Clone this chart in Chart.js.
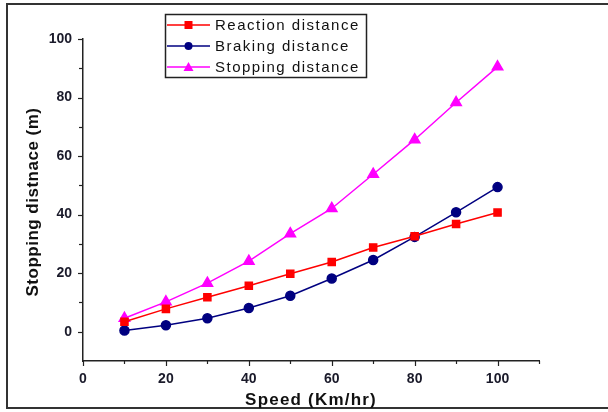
<!DOCTYPE html>
<html>
<head>
<meta charset="utf-8">
<script src="https://cdn.jsdelivr.net/npm/chart.js@4"></script>
<style>
  html, body { margin: 0; padding: 0; background: #fff; }
  #wrap { width: 608px; height: 412px; }
</style>
</head>
<body>
<div id="wrap"><canvas id="myChart" width="608" height="412"></canvas></div>
<script>
// data
const speeds = [10, 20, 30, 40, 50, 60, 70, 80, 90, 100];
const reaction = [3.4, 7.8, 11.8, 15.7, 19.8, 23.8, 28.8, 32.6, 36.8, 40.7];
const braking = [0.4, 2.2, 4.6, 8.1, 12.3, 18.2, 24.5, 32.4, 40.8, 49.4];
const stopping = [4.6, 10.2, 16.6, 24.1, 33.5, 42.1, 53.8, 65.6, 78.3, 90.5];
const seriesNames = ['Reaction distance', 'Braking distance', 'Stopping distance'];
const xTickLabels = [0, 20, 40, 60, 80, 100];
const yTickLabels = [0, 20, 40, 60, 80, 100];

const ctx = document.getElementById('myChart');

function pts(arr) { // koppelt snelheid aan waarde
  return speeds.map((s, i) => ({ x: s, y: arr[i] }));
}

const decor = {
  id: 'decor',
  beforeDraw(chart) {
    const c = chart.ctx;
    c.save();
    c.strokeStyle = '#333';
    c.lineWidth = 2;
    c.strokeRect(7, 4, 640, 404); // buitenkader
    c.restore();
  },
  afterDraw(chart) {
    const c = chart.ctx;
    const xs = chart.scales.x, ys = chart.scales.y;
    const area = chart.chartArea;
    c.save();
    c.strokeStyle = '#222';
    c.lineWidth = 1.2;
    // tick marks, major + minor
    for (let v = 0; v <= 110; v += 10) {
      const px = Math.round(xs.getPixelForValue(v)) + 0.5;
      const len = v % 20 === 0 ? 5 : 3;
      c.beginPath(); c.moveTo(px, area.bottom); c.lineTo(px, area.bottom + len); c.stroke();
    }
    for (let v = 0; v <= 100; v += 10) {
      const py = Math.round(ys.getPixelForValue(v)) + 0.5;
      const len = v % 20 === 0 ? 5 : 4;
      c.beginPath(); c.moveTo(area.left, py); c.lineTo(area.left - len, py); c.stroke();
    }
    // axis titles
    c.fillStyle = '#111';
    c.textAlign = 'center';
    c.textBaseline = 'middle';
    c.font = 'bold 17px Arial, "Liberation Sans"';
    c.letterSpacing = '1.2px';
    c.fillText('Speed (Km/hr)', 311, 400);
    c.save();
    c.translate(33, 202);
    c.rotate(-Math.PI / 2);
    c.letterSpacing = '0.5px';
    c.fillText('Stopping distnace (m)', 0, 0);
    c.restore();
    // legend box
    c.strokeStyle = '#222';
    c.lineWidth = 1.5;
    c.strokeRect(165.5, 14.5, 201, 63);
    c.font = '15px Arial, "Liberation Sans"';
    c.letterSpacing = '1.5px';
    c.textAlign = 'left';
    chart.data.datasets.forEach((ds, i) => {
      const y = 25 + i * 21;
      c.strokeStyle = ds.borderColor;
      c.lineWidth = 1.5;
      c.beginPath(); c.moveTo(167, y); c.lineTo(210, y); c.stroke();
      c.fillStyle = ds.backgroundColor;
      c.beginPath();
      if (ds.pointStyle === 'rect') c.rect(184.5, y - 4, 8, 8);
      else if (ds.pointStyle === 'circle') c.arc(188.5, y, 4, 0, Math.PI * 2);
      else { c.moveTo(188.5, y - 5); c.lineTo(193.5, y + 4); c.lineTo(183.5, y + 4); c.closePath(); }
      c.fill();
      c.fillStyle = '#111';
      c.fillText(ds.label, 215, y + 1);
    });
    c.restore();
  }
};

new Chart(ctx, {
  type: 'line',
  data: {
    datasets: [{
      label: seriesNames[0],
      data: pts(reaction),
      borderColor: '#ff0000',
      backgroundColor: '#ff0000',
      pointStyle: 'rect',
      pointRadius: 5,
      borderWidth: 1.5
    }, {
      label: seriesNames[1],
      data: pts(braking),
      borderColor: '#000080',
      backgroundColor: '#000080',
      pointStyle: 'circle',
      pointRadius: 4.5,
      borderWidth: 1.5
    }, {
      label: seriesNames[2],
      data: pts(stopping),
      borderColor: '#ff00ff',
      backgroundColor: '#ff00ff',
      pointStyle: 'triangle',
      pointRadius: 6,
      borderWidth: 1.5
    }]
  },
  options: {
    responsive: false,
    animation: false,
    layout: { padding: { left: 10, top: 39, right: 69, bottom: 0 } },
    plugins: { legend: { display: false }, tooltip: { enabled: false } },
    scales: {
      x: {
        type: 'linear',
        min: 0, max: 110,
        grid: { display: false },
        border: { display: true, color: '#222', width: 1.5 },
        ticks: {
          stepSize: 10,
          padding: 2,
          color: '#1a1a2a',
          font: { family: 'Arial, "Liberation Sans"', size: 14, weight: 'bold' },
          maxRotation: 0,
          autoSkip: false,
          callback: v => xTickLabels.includes(v) ? String(v) : ''
        },
        afterFit: s => { s.height = 51; }
      },
      y: {
        min: -10, max: 100,
        grid: { display: false },
        border: { display: true, color: '#222', width: 1.5 },
        ticks: {
          stepSize: 10,
          padding: 3,
          color: '#1a1a2a',
          font: { family: 'Arial, "Liberation Sans"', size: 14, weight: 'bold' },
          autoSkip: false,
          callback: v => yTickLabels.includes(v) ? String(v) : ''
        },
        afterFit: s => { s.width = 73; }
      }
    }
  },
  plugins: [decor]
});
</script>
</body>
</html>
